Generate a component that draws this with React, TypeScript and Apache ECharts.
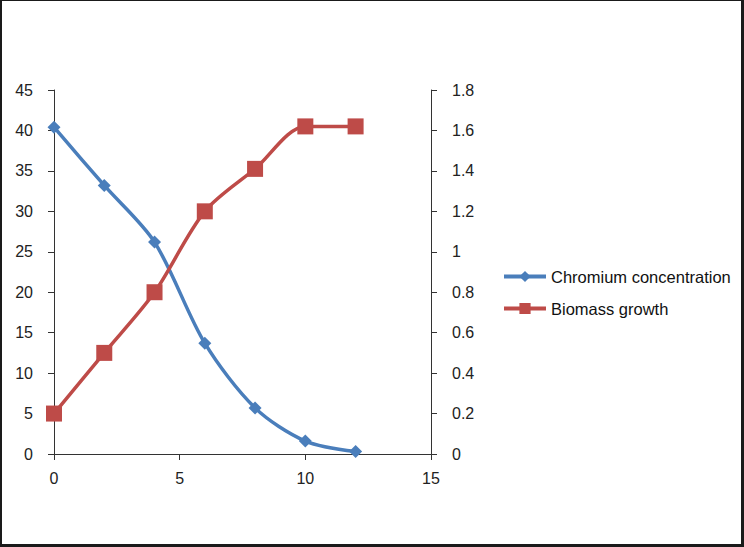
import React, { useEffect, useRef } from "react";
import * as echarts from "echarts";

const xValues = [0, 2, 4, 6, 8, 10, 12];
const chromium = [40.4, 33.2, 26.2, 13.7, 5.7, 1.6, 0.3];
const biomass = [0.2, 0.5, 0.8, 1.2, 1.41, 1.62, 1.62];
const seriesNames = ["Chromium concentration", "Biomass growth"];

export default function App() {
  const ref = useRef<HTMLDivElement>(null);
  useEffect(() => {
    document.body.style.margin = "0";
    const chart = echarts.init(ref.current!, null, { renderer: "svg" });
    const font = "Liberation Sans, Arial, sans-serif";
    const axisLabel = { color: "#222", fontSize: 16, fontFamily: font };
    const axisLine = { show: true, onZero: false, lineStyle: { color: "#333", width: 1 } };
    const axisTick = { show: true, length: 6, lineStyle: { color: "#333" } };
    chart.setOption({
      animation: false,
      backgroundColor: "#fff",
      grid: { left: 54, right: 313, top: 90, bottom: 93 },
      legend: {
        orient: "vertical",
        left: 497,
        top: 263,
        itemWidth: 42,
        itemHeight: 14,
        itemGap: 15,
        lineStyle: { width: 4 },
        textStyle: { color: "#111", fontSize: 16.5, fontFamily: font },
        data: seriesNames,
      },
      xAxis: {
        type: "value",
        min: 0,
        max: 15,
        interval: 5,
        splitLine: { show: false },
        axisLine,
        axisTick,
        axisLabel: { ...axisLabel, margin: 16 },
      },
      yAxis: [
        {
          type: "value",
          min: 0,
          max: 45,
          interval: 5,
          splitLine: { show: false },
          axisLine,
          axisTick,
          axisLabel: { ...axisLabel, margin: 21 },
        },
        {
          type: "value",
          min: 0,
          max: 1.8,
          interval: 0.2,
          position: "right",
          splitLine: { show: false },
          axisLine,
          axisTick,
          axisLabel: { ...axisLabel, margin: 21, formatter: (v: number) => String(Math.round(v * 10) / 10) },
        },
      ],
      series: [
        {
          name: seriesNames[0],
          type: "line",
          yAxisIndex: 0,
          smooth: 0.3,
          symbol: "diamond",
          symbolSize: 13,
          lineStyle: { color: "#4A7EBB", width: 3.5 },
          itemStyle: { color: "#4A7EBB" },
          data: xValues.map((x, i) => [x, chromium[i]]),
        },
        {
          name: seriesNames[1],
          type: "line",
          yAxisIndex: 1,
          smooth: 0.3,
          symbol: "rect",
          symbolSize: 16,
          lineStyle: { color: "#BE4B48", width: 3.5 },
          itemStyle: { color: "#BE4B48" },
          data: xValues.map((x, i) => [x, biomass[i]]),
        },
      ],
    });
    return () => chart.dispose();
  }, []);
  return (
    <div style={{ position: "fixed", left: 0, top: 0, width: 744, height: 547, background: "#fff" }}>
      <div ref={ref} style={{ position: "absolute", left: 0, top: 0, width: 744, height: 547 }} />
      <div
        style={{
          position: "absolute",
          left: 0,
          top: 0,
          width: 744,
          height: 547,
          boxSizing: "border-box",
          borderTop: "1px solid #1a1a1a",
          borderLeft: "2px solid #1a1a1a",
          borderRight: "3px solid #1a1a1a",
          borderBottom: "3px solid #1a1a1a",
          pointerEvents: "none",
        }}
      />
    </div>
  );
}
